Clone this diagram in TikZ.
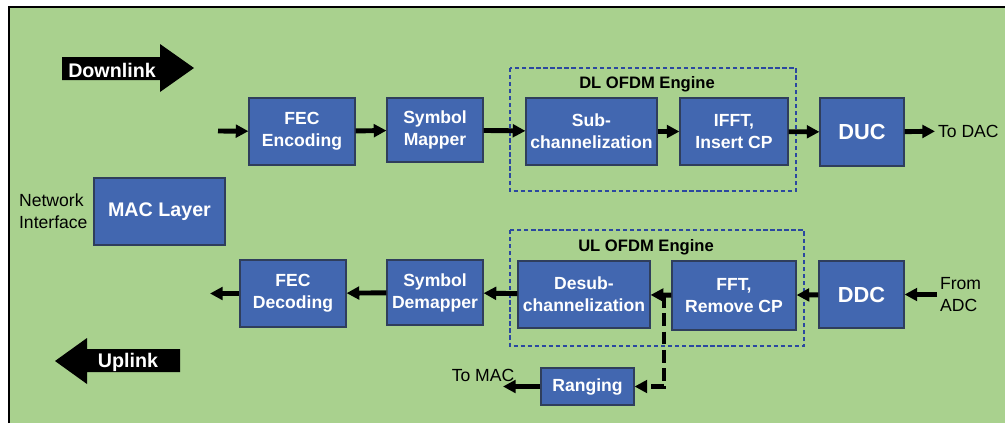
\documentclass[tikz,border=0pt]{standalone}
\usepackage{fontspec}
\setmainfont{Liberation Sans}
\usetikzlibrary{arrows.meta}
\definecolor{bggreen}{HTML}{A9D18E}
\definecolor{boxblue}{HTML}{4267B0}
\definecolor{boxedge}{HTML}{2F3E5C}
\definecolor{engblue}{HTML}{2B48A0}

\begin{document}
\begin{tikzpicture}[x=0.025cm, y=-0.025cm]
  \tikzstyle{block}=[draw=boxedge, line width=0.8pt, fill=boxblue, text=white, align=center, inner sep=0pt, font=\bfseries\fontsize{12.5}{15.6}\selectfont]
  \tikzstyle{arr}=[line width=3.5pt, -{Triangle[length=9pt,width=9pt]}]
  \tikzstyle{dasharr}=[line width=3.5pt, dash pattern=on 9pt off 4pt, -{Triangle[length=9pt,width=9pt]}]
  \tikzstyle{engine}=[draw=engblue, line width=1pt, dash pattern=on 3pt off 2pt]
  \tikzstyle{enginelabel}=[font=\bfseries\fontsize{11.8}{14}\selectfont]
  \tikzstyle{plain}=[align=left, inner sep=2pt, font=\fontsize{12.5}{16}\selectfont]
  \tikzstyle{tag}=[text=white, font=\bfseries\fontsize{14}{16}\selectfont]

  \useasboundingbox (0,0) rectangle (1005,423);
  \fill[bggreen] (9,7) rectangle (1005,423);
  \draw[line width=1.5pt] (9,423) -- (9,7) -- (1005,7);

  % direction arrows
  \fill (62,57) -- (160,57) -- (160,44) -- (194,68) -- (160,92) -- (160,80) -- (62,80) -- cycle;
  \node[tag] (dltag) at (112,70) {Downlink};
  \fill (55,361) -- (87,338) -- (87,349) -- (180,349) -- (180,372) -- (87,372) -- (87,384) -- cycle;
  \node[tag] (ultag) at (128,362) {Uplink};

  % engines
  \draw[engine] (510,68) rectangle (796,191);
  \node[enginelabel] (dllabel) at (647,84) {DL OFDM Engine};
  \draw[engine] (510,230) rectangle (804,346);
  \node[enginelabel] (ullabel) at (646,247) {UL OFDM Engine};

  % downlink chain
  \node[block, minimum width=2.65cm,  minimum height=1.675cm] (fecenc) at (302,131.5) {FEC\\Encoding};
  \node[block, minimum width=2.4cm,   minimum height=1.6cm]   (symmap) at (435,130)   {Symbol\\Mapper};
  \node[block, minimum width=3.275cm, minimum height=1.675cm] (subch)  at (591.5,131.5) {Sub-\\channelization};
  \node[block, minimum width=2.7cm,   minimum height=1.675cm] (ifft)   at (734,131.5) {IFFT,\\Insert CP};
  \node[block, minimum width=2.1cm,   minimum height=1.7cm, font=\bfseries\fontsize{15.5}{18}\selectfont] (duc) at (862,132) {DUC};
  \node[plain, anchor=west] (todac) at (935,131) {To DAC};
  \coordinate (dlin) at (218,131);

  \draw[arr] (dlin) -- (fecenc);
  \draw[arr] (fecenc) -- (symmap);
  \draw[arr] (symmap) -- (subch);
  \draw[arr] (subch) -- (ifft);
  \draw[arr] (ifft) -- (duc);
  \draw[arr] (duc) -- (todac);

  % mac layer
  \node[block, minimum width=3.275cm, minimum height=1.675cm, font=\bfseries\fontsize{14}{16}\selectfont] (mac) at (159.5,211.5) {MAC Layer};
  \node[plain, anchor=west] (netif) at (16,211) {Network\\Interface};

  % uplink chain
  \node[block, minimum width=2.65cm,  minimum height=1.675cm] (fecdec) at (293,293.5) {FEC\\Decoding};
  \node[block, minimum width=2.4cm,   minimum height=1.625cm] (symdem) at (435,292.5) {Symbol\\Demapper};
  \node[block, minimum width=3.3cm,   minimum height=1.675cm] (desub)  at (584,294.5) {Desub-\\channelization};
  \node[block, minimum width=3.1cm,   minimum height=1.725cm] (fft)    at (734,295.5) {FFT,\\Remove CP};
  \node[block, minimum width=2.125cm, minimum height=1.675cm, font=\bfseries\fontsize{15.5}{18}\selectfont] (ddc) at (861.5,294.5) {DDC};
  \node[plain, anchor=west] (adc) at (937,294.5) {From\\ADC};
  \coordinate (ulout) at (210,293.5);

  \draw[arr] (adc) -- (ddc);
  \draw[arr] (ddc) -- (fft);
  \draw[arr] (fft) -- (desub);
  \draw[arr] (desub) -- (symdem);
  \draw[arr] (symdem) -- (fecdec);
  \draw[arr] (fecdec) -- (ulout);

  % ranging
  \node[block, minimum width=2.325cm, minimum height=0.925cm] (ranging) at (587.5,386.5) {Ranging};
  \node[plain] (tomac) at (483,375) {To MAC};
  \coordinate (tap) at (664,295);
  \coordinate (macout) at (503,386.5);

  \draw[dasharr] (tap) |- (ranging.east);
  \draw[arr] (ranging) -- (macout);

\end{tikzpicture}
\end{document}
